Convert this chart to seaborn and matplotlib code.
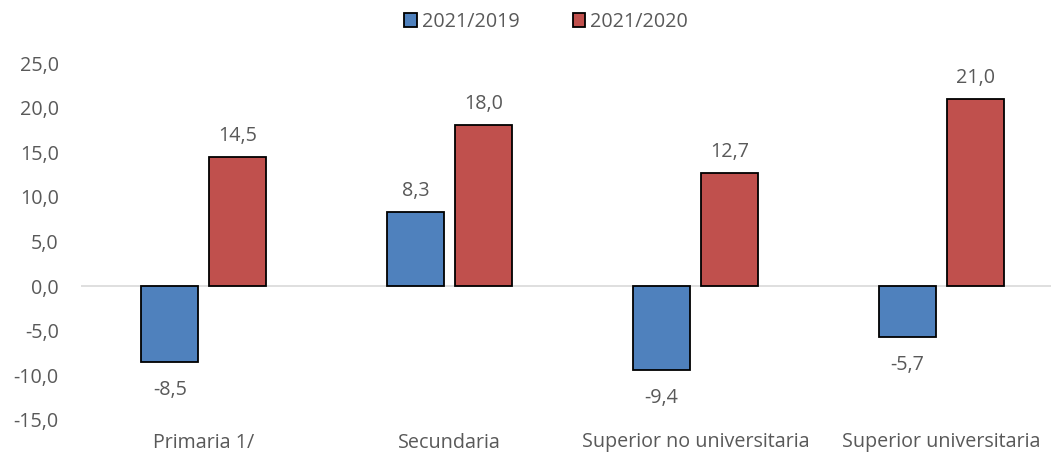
import matplotlib
matplotlib.use("Agg")
import matplotlib.pyplot as plt
import seaborn as sns
import pandas as pd
from matplotlib.patches import Patch

categories = ["Primaria 1/", "Secundaria", "Superior no universitaria", "Superior universitaria"]
series_names = ["2021/2019", "2021/2020"]
vals_2019 = [-8.5, 8.3, -9.4, -5.7]
vals_2020 = [14.5, 18.0, 12.7, 21.0]
yticks = [-15, -10, -5, 0, 5, 10, 15, 20, 25]
colors = ["#4F81BD", "#C0504D"]

df = pd.DataFrame({
    "cat": categories * 2,
    "serie": [series_names[0]] * 4 + [series_names[1]] * 4,
    "val": vals_2019 + vals_2020,
})

sns.set_theme(style="white")
plt.rcParams["font.family"] = ["Open Sans", "DejaVu Sans"]
txt = "#595959"
fs = 14.2

fig = plt.figure(figsize=(10.51, 4.58), dpi=100)
ax = fig.add_axes([81 / 1051, 1 - 420 / 458, 983 / 1051, (420 - 63) / 458])

sns.barplot(data=df, x="cat", y="val", hue="serie", order=categories,
            hue_order=series_names, palette=colors, saturation=1, width=0.553, gap=0.16,
            edgecolor="black", linewidth=1.3, ax=ax, legend=False, errorbar=None)

ax.set_ylim(-15, 25)
ax.set_xlim(-0.5, 3.5)
ax.set_yticks(yticks)
ax.set_yticklabels([f"{v:.1f}".replace(".", ",") for v in yticks])
ax.axhline(0, color="#D9D9D9", lw=1.2, zorder=0)
for s in ax.spines.values():
    s.set_visible(False)
ax.set_xlabel("")
ax.set_ylabel("")
ax.tick_params(axis="both", length=0, labelsize=fs, colors=txt)
ax.tick_params(axis="y", pad=16)
ax.tick_params(axis="x", pad=9)

for cont in ax.containers:
    for b in cont:
        h = b.get_height()
        lab = f"{h:.1f}".replace(".", ",")
        x = b.get_x() + b.get_width() / 2
        if h >= 0:
            ax.annotate(lab, (x, h), xytext=(0, 8), textcoords="offset points",
                        ha="center", va="bottom", fontsize=fs, color=txt)
        else:
            ax.annotate(lab, (x, h), xytext=(0, -13), textcoords="offset points",
                        ha="center", va="top", fontsize=fs, color=txt)

handles = [Patch(facecolor=c, edgecolor="black", linewidth=1.3) for c in colors]
fig.legend(handles, series_names, loc="center", bbox_to_anchor=(546 / 1051, 1 - 22 / 458),
           ncol=2, frameon=False, fontsize=fs, labelcolor=txt,
           handlelength=0.65, handleheight=0.65, handletextpad=0.25, columnspacing=2.7)

fig.savefig("out.png", dpi=100)
